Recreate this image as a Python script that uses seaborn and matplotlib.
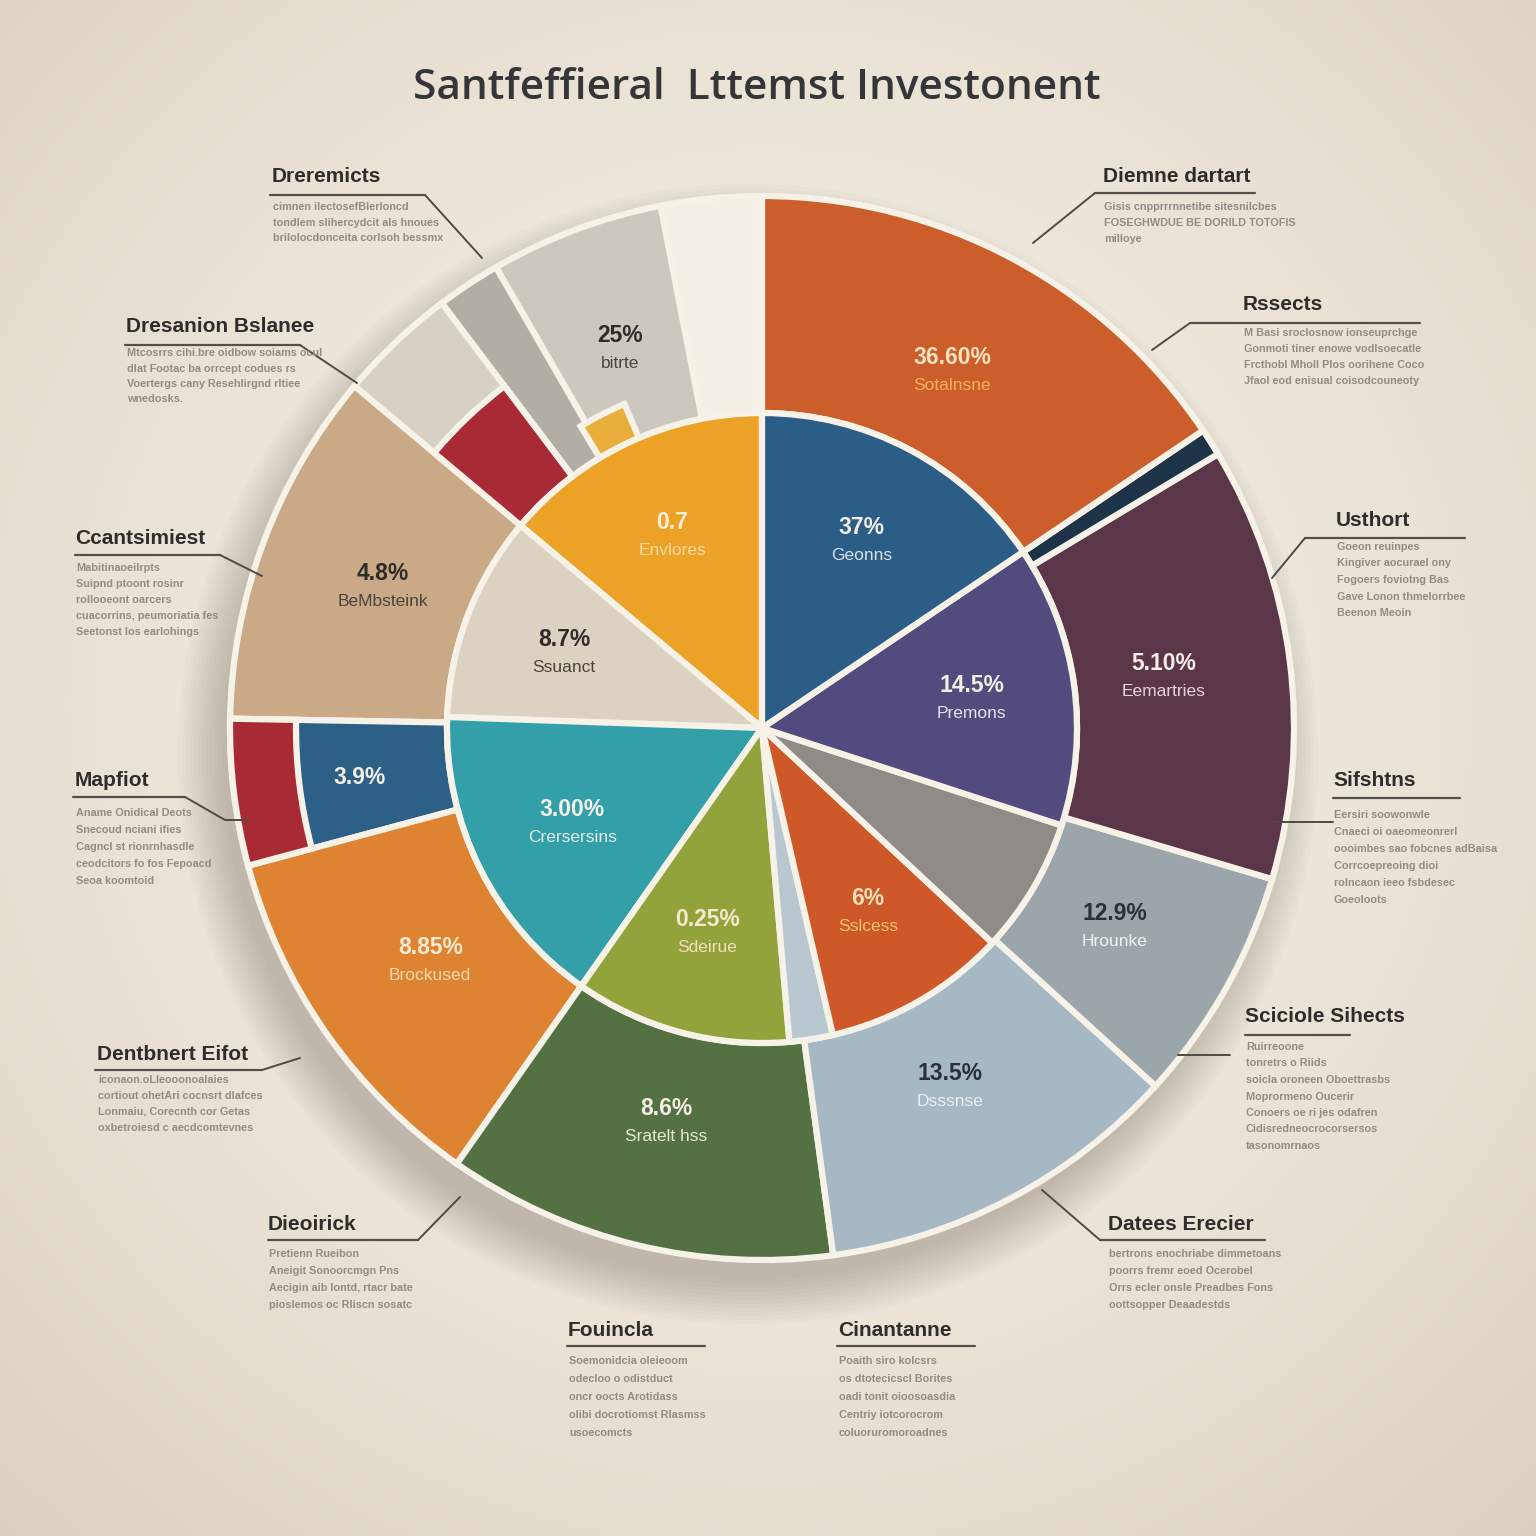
import numpy as np
import seaborn as sns
import matplotlib.pyplot as plt
from matplotlib.patches import Circle

W = 1536

# ---- data (wedges go counterclockwise from 12 o'clock) ----
inner_sizes = [50, 38, 57, 40, 8, 34, 25, 52, 56]
inner_pcts = ["0.7", "8.7%", "3.00%", "0.25%", "", "6%", "", "14.5%", "37%"]
inner_names = ["Envlores", "Ssuanct", "Crersersins", "Sdeirue", "", "Sslcess", "", "Premons", "Geonns"]
inner_colors = ["#eca226", "#dcd2c1", "#33a0a9", "#93a33b", "#b8c7d0",
                "#cf5829", "#8f8c87", "#514c7d", "#2c5d87"]

outer_sizes = [11, 19, 7, 13, 39, 16, 40, 42.7, 40, 25.8, 47.5, 3, 56]
outer_pcts = ["", "25%", "", "", "4.8%", "3.9%", "8.85%", "8.6%", "13.5%", "12.9%", "5.10%", "", "36.60%"]
outer_names = ["", "bitrte", "", "", "BeMbsteink", "", "Brockused", "Sratelt hss",
               "Dsssnse", "Hrounke", "Eemartries", "", "Sotalnsne"]
outer_colors = ["#f4f0e7", "#cdc8bf", "#b2aea6", "#d7d0c4", "#caa987", "#2c6086",
                "#de8331", "#537142", "#a6b8c4", "#9ca6aa", "#5b3649", "#1d3348", "#cc5e2c"]

# small accent blocks laid over the rings
notch_sizes = [23, 8, 329]
block_sizes = [37, 13, 310]
cap_sizes = [89, 16, 255]

inner_pct_col = ["#f8eedb", "#2e2b2a", "#f5f1e8", "#f4e8cf", "", "#f7e2b6", "", "#f3efe6", "#f3efe6"]
inner_name_col = ["#f7dba4", "#4a4540", "#e4ecea", "#f2dfb9", "", "#f6c46c", "", "#e6e2ee", "#d5e1ea"]
outer_pct_col = ["", "#2e2b2a", "", "", "#2e2b2a", "#f3efe6", "#fbe9d0", "#f3efe6",
                 "#2b2f36", "#2b2f36", "#f3efe6", "", "#fbe3c0"]
outer_name_col = ["", "#4a4540", "", "", "#4a4540", "", "#f6d7ae", "#e6e6da",
                  "#e9eef2", "#eef1f2", "#e2d6dc", "", "#f5b05a"]

title = "Santfeffieral  Lttemst Investonent"

callout_titles = ["Dreremicts", "Dresanion Bslanee", "Ccantsimiest", "Mapfiot",
                  "Dentbnert Eifot", "Dieoirick", "Fouincla", "Cinantanne",
                  "Datees Erecier", "Sciciole Sihects", "Sifshtns", "Usthort",
                  "Rssects", "Diemne dartart"]
callout_bodies = [
    ["cimnen ilectosefBlerloncd", "tondlem slihercydcit als hnoues", "brilolocdonceita corlsoh bessmx"],
    ["Mtcosrrs cihi.bre oidbow soiams ocul", "dlat Footac ba orrcept codues rs",
     "Voertergs cany Resehlirgnd rltiee", "wnedosks."],
    ["Mabitinaoeilrpts", "Suipnd ptoont rosinr", "rollooeont oarcers",
     "cuacorrins, peumoriatia fes", "Seetonst los earlohings"],
    ["Aname Onidical Deots", "Snecoud nciani ifies", "Cagncl st rionrnhasdle",
     "ceodcitors fo fos Fepoacd", "Seoa koomtoid"],
    ["iconaon.oLIeooonoalaies", "cortiout ohetAri cocnsrt dlafces",
     "Lonmaiu, Corecnth cor Getas", "oxbetroiesd c aecdcomtevnes"],
    ["Pretienn Rueibon", "Aneigit Sonoorcmgn Pns", "Aecigin aib lontd, rtacr bate",
     "pioslemos oc Rliscn sosatc"],
    ["Soemonidcia oleieoom", "odecloo o odistduct", "oncr oocts Arotidass",
     "olibi docrotiomst Rlasmss", "usoecomcts"],
    ["Poaith siro kolcsrs", "os dtotecicscl Borites", "oadi tonit oioosoasdia",
     "Centriy iotcorocrom", "coluoruromoroadnes"],
    ["bertrons enochriabe dimmetoans", "poorrs fremr eoed Ocerobel",
     "Orrs ecler onsle Preadbes Fons", "oottsopper Deaadestds"],
    ["Ruirreoone", "tonretrs o Riids", "soicla oroneen Oboettrasbs", "Moprormeno Oucerir",
     "Conoers oe ri jes odafren", "Cidisredneocrocorsersos", "tasonomrnaos"],
    ["Eersiri soowonwle", "Cnaeci oi oaeomeonrerl", "oooimbes sao fobcnes adBaisa",
     "Corrcoepreoing dioi", "rolncaon ieeo fsbdesec", "Goeoloots"],
    ["Goeon reuinpes", "Kingiver aocurael ony", "Fogoers foviotng Bas",
     "Gave Lonon thmelorrbee", "Beenon Meoin"],
    ["M Basi sroclosnow ionseuprchge", "Gonmoti tiner enowe vodlsoecatle",
     "Frcthobl Mholl Plos oorihene Coco", "Jfaol eod enisual coisodcouneoty"],
    ["Gisis cnpprrrnnetibe sitesnilcbes", "FOSEGHWDUE BE DORILD TOTOFIS", "milloye"],
]

# ---- layout (image pixel coords, y down) ----
# title x, title y, underline x0, x1, underline y, body y0, body step, leader points
callout_layout = [
    (272, 177, 270, 425, 195, 207, 15.5, [(425, 195), (482, 258)]),
    (126, 327, 125, 300, 345, 353, 15.5, [(300, 345), (357, 383)]),
    (75, 539, 75, 220, 555, 568, 16, [(220, 555), (262, 576)]),
    (75, 780, 73, 185, 797, 813, 17, [(185, 797), (225, 820), (248, 820)]),
    (97, 1054, 95, 262, 1070, 1080, 16, [(262, 1070), (300, 1058)]),
    (268, 1224, 268, 418, 1240, 1254, 17, [(418, 1240), (460, 1197)]),
    (568, 1330, 567, 705, 1346, 1361, 18, []),
    (838, 1330, 837, 975, 1346, 1361, 18, []),
    (1108, 1224, 1100, 1265, 1240, 1254, 17, [(1100, 1240), (1042, 1190)]),
    (1245, 1017, 1245, 1350, 1035, 1047, 16.5, [(1230, 1055), (1178, 1055)]),
    (1333, 781, 1333, 1460, 798, 815, 17, [(1333, 822), (1272, 822)]),
    (1336, 520, 1305, 1465, 538, 547, 16.5, [(1305, 538), (1272, 578)]),
    (1243, 305, 1190, 1420, 323, 333, 16, [(1190, 323), (1152, 350)]),
    (1103, 177, 1095, 1255, 193, 207, 16, [(1095, 193), (1033, 243)]),
]

C = (762, W - 728)
R_OUT, R_IN = 532, 315
EDGE = "#f6f2e8"


def Y(y):
    return W - y


sns.set_theme(style="white")
plt.rcParams["font.family"] = ["Liberation Sans", "DejaVu Sans"]

fig = plt.figure(figsize=(15.36, 15.36), dpi=100)
ax = fig.add_axes([0, 0, 1, 1])

# background vignette
yy, xx = np.mgrid[0:512, 0:512] * 3
d = np.clip(np.hypot(xx - 768, yy - 700) / 1150, 0, 1) ** 1.6
light = np.array([0.957, 0.940, 0.902])
dark = np.array([0.855, 0.815, 0.745])
ax.imshow(light + (dark - light) * d[..., None], extent=[0, W, 0, W],
          origin="upper", interpolation="bilinear", zorder=0)

# soft shadow, mostly lower-left
for k in range(12):
    ax.add_patch(Circle((C[0] - 14, C[1] - 26), R_OUT - 6 + k * 4,
                        color="#4d4033", alpha=0.022, lw=0, zorder=1))

wp = dict(edgecolor=EDGE, linewidth=4.5)
outer, _ = ax.pie(outer_sizes, colors=outer_colors, radius=R_OUT, center=C,
                  startangle=90, counterclock=True,
                  wedgeprops=dict(width=R_OUT - R_IN, zorder=3, **wp))

accents = [(notch_sizes, ["none", "#e9ad3b", "none"], 352, 37),
           (block_sizes, ["none", "#a72a36", "none"], 428, 113),
           (cap_sizes, ["none", "#a82a35", "none"], R_OUT, 66)]
for sizes, cols, r, w in accents:
    ws, _ = ax.pie(sizes, colors=cols, radius=r, center=C, startangle=90,
                   counterclock=True, wedgeprops=dict(width=w, zorder=4, **wp))
    for wdg, c in zip(ws, cols):
        if c == "none":
            wdg.set_visible(False)

inner, _ = ax.pie(inner_sizes, colors=inner_colors, radius=R_IN, center=C,
                  startangle=90, counterclock=True,
                  wedgeprops=dict(zorder=5, **wp))


def wedge_labels(sizes, pcts, names, pcol, ncol, r):
    tot = sum(sizes)
    cum = np.cumsum(sizes)
    for s, c, p, n, pc, nc in zip(sizes, cum, pcts, names, pcol, ncol):
        if not p:
            continue
        a = np.deg2rad(90 + (c - s / 2) * 360 / tot)
        x, y = C[0] + r * np.cos(a), C[1] + r * np.sin(a)
        dy = 13 if n else 0
        ax.text(x, y + dy, p, color=pc, fontsize=16.5, fontweight="bold",
                ha="center", va="center", zorder=10)
        if n:
            ax.text(x, y - 15, n, color=nc, fontsize=12.5, ha="center",
                    va="center", zorder=10)


wedge_labels(inner_sizes, inner_pcts, inner_names, inner_pct_col, inner_name_col, 212)
wedge_labels(outer_sizes, outer_pcts, outer_names, outer_pct_col, outer_name_col, 405)

# callouts
for t, body, (tx, ty, u0, u1, uy, by, step, lead) in zip(callout_titles, callout_bodies, callout_layout):
    ax.text(tx, Y(ty), t, fontsize=15, fontweight="bold", color="#2f2c2c",
            ha="left", va="center", zorder=10)
    ax.plot([u0, u1], [Y(uy), Y(uy)], color="#55504b", lw=1.6, zorder=9)
    if lead:
        ax.plot([p[0] for p in lead], [Y(p[1]) for p in lead], color="#4f4a45",
                lw=1.4, zorder=9)
    for i, line in enumerate(body):
        ax.text(tx + 1, Y(by + i * step), line, fontsize=7.8, fontweight="bold",
                color="#938c83", ha="left", va="center", zorder=10)

ax.text(757, Y(88), title, fontsize=30.5, fontweight="semibold", color="#35363a",
        family=["Open Sans", "DejaVu Sans"], ha="center", va="center", zorder=10)

ax.set_xlim(0, W)
ax.set_ylim(0, W)
ax.set_aspect("equal")
ax.axis("off")
fig.savefig("out.png", dpi=100)
